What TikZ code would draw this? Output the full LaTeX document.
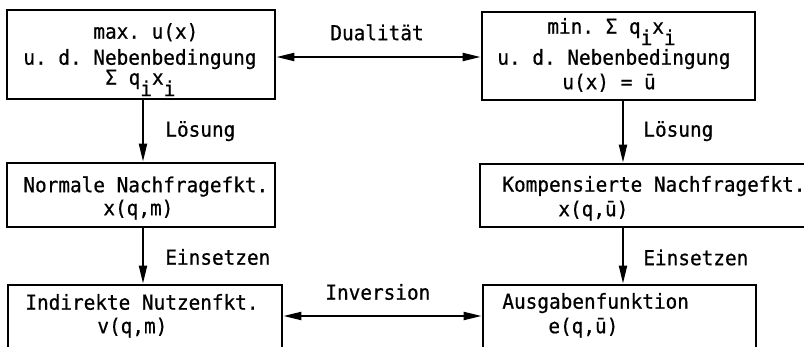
\documentclass[tikz,border=0pt]{standalone}
\usepackage{fontspec}
\setmonofont[FakeStretch=0.94,FakeBold=0.6]{DejaVu Sans Mono}
\usetikzlibrary{arrows.meta,fit}
\newcommand{\sub}[1]{\raisebox{-0.55em}{#1}}
\begin{document}
\begin{tikzpicture}[x=0.5pt,y=-0.5pt,
  box/.style={draw=black,line width=1.35pt,inner sep=0pt,rectangle},
  txt/.style={anchor=west,inner sep=0pt,text height=0.72em,text depth=0pt,
    font=\ttfamily\fontsize{10.3}{12}\selectfont},
  arr/.style={line width=1pt,-{Triangle[length=9pt,width=4pt]}},
  darr/.style={line width=1pt,{Triangle[length=9pt,width=4pt]}-{Triangle[length=9pt,width=4pt]}}]
\useasboundingbox (0,0) rectangle (804,347);
\clip (0,0) rectangle (804,347);
\fill[white] (0,0) rectangle (804,347);
% boxes
\node[box,fit={(7,10) (275,99)}] (b1) {};
\node[box,fit={(482,12) (755,100)}] (b2) {};
\node[box,fit={(7,163) (275,227)}] (b3) {};
\node[box,fit={(480,164) (840,227)}] (b4) {};
\node[box,fit={(8,285) (282,380)}] (b5) {};
\node[box,fit={(483,285) (756,380)}] (b6) {};
% texts in boxes
\node[txt] (t1a) at (93,31.5) {max. u(x)};
\node[txt] (t1b) at (23,57.5) {u. d. Nebenbedingung};
\node[txt] (t1c) at (105,77.5) {Σ q\sub{i}x\sub{i}};
\node[txt] (t2a) at (547,26.5) {min. Σ q\sub{i}x\sub{i}};
\node[txt] (t2b) at (497,57.5) {u. d. Nebenbedingung};
\node[txt] (t2c) at (562,82) {u(x) = ū};
\node[txt] (t3a) at (23,185) {Normale Nachfragefkt.};
\node[txt] (t3b) at (103,208) {x(q,m)};
\node[txt] (t4a) at (502,184.5) {Kompensierte Nachfragefkt.};
\node[txt] (t4b) at (558,209) {x(q,ū)};
\node[txt] (t5a) at (25,302.5) {Indirekte Nutzenfkt.};
\node[txt] (t5b) at (97,326) {v(q,m)};
\node[txt] (t6a) at (502,301.5) {Ausgabenfunktion};
\node[txt] (t6b) at (548,326) {e(q,ū)};
% connector labels
\node[txt] (l1) at (330,33) {Dualität};
\node[txt] (l2) at (165,129.5) {Lösung};
\node[txt] (l3) at (643,129.5) {Lösung};
\node[txt] (l4) at (165,257.5) {Einsetzen};
\node[txt] (l5) at (643,258) {Einsetzen};
\node[txt] (l6) at (325,292.5) {Inversion};
% helper coordinates
\coordinate (lx) at (143,0);
\coordinate (rx) at (623,0);
\coordinate (dy) at (0,57);
\coordinate (iy) at (0,316);
% connectors
\draw[darr] (b1.east |- dy) -- (b2.west |- dy);
\draw[darr] (b5.east |- iy) -- (b6.west |- iy);
\draw[arr] (b1.south -| lx) -- (b3.north -| lx);
\draw[arr] (b3.south -| lx) -- (b5.north -| lx);
\draw[arr] (b2.south -| rx) -- (b4.north -| rx);
\draw[arr] (b4.south -| rx) -- (b6.north -| rx);
\end{tikzpicture}
\end{document}
